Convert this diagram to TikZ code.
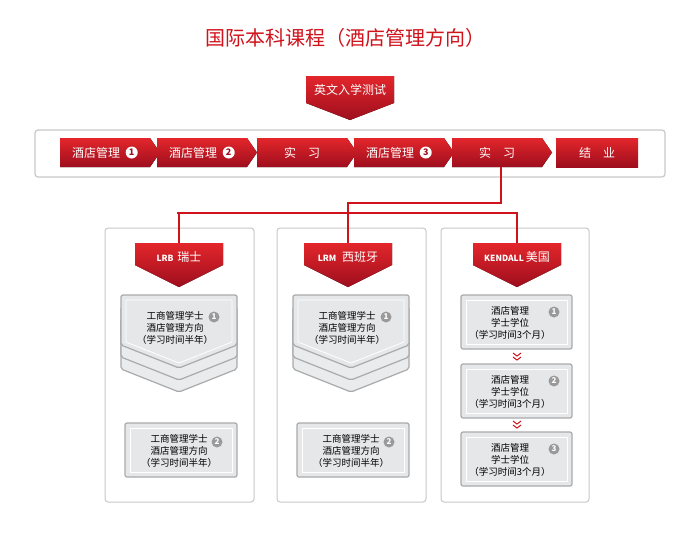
\documentclass[tikz,border=0pt]{standalone}
\usepackage{fontspec}
\setmainfont{Noto Sans CJK SC}
\usetikzlibrary{positioning}
\definecolor{hired}{HTML}{E3262B}
\definecolor{lored}{HTML}{9E0E1E}
\definecolor{titlered}{HTML}{D0121B}
\definecolor{panelgray}{HTML}{C8C8C8}
\definecolor{boxgray}{HTML}{E6E7E9}
\definecolor{boxedge}{HTML}{A9AAAC}
\definecolor{numgray}{HTML}{9A9A9A}
\tikzset{
	redshade/.style={top color=hired, bottom color=lored, draw=none},
	redtxt/.style={text=white, font=\fontsize{12}{14}\selectfont},
	panel/.style={draw=panelgray, line width=1pt, rounded corners=3pt, fill=white},
	graybox/.style={draw=boxedge, line width=1.2pt, fill=boxgray, rounded corners=2pt},
	grayin/.style={draw=white, line width=0.8pt},
	boxtxt/.style={font=\fontsize{9.5}{12}\selectfont, align=center, text=black},
	numw/.style={circle, fill=white, text=lored, inner sep=0.6pt, minimum size=12pt, font=\fontsize{9}{9}\selectfont\bfseries},
	numg/.style={circle, fill=numgray, text=white, inner sep=0.6pt, minimum size=11pt, font=\fontsize{8}{8}\selectfont\bfseries},
	link/.style={draw=titlered, line width=1.2pt},
	chev/.style={draw=titlered, line width=1pt}
}
\newcommand\tabdown[6]{% x1 x2 y1 y2 ytip name
	\fill[redshade] (#1,#3) -- (#2,#3) -- (#2,#4) -- ({(#1+#2)/2},#5) -- (#1,#4) -- cycle;
	\coordinate (#6) at ({(#1+#2)/2},#3);}
\begin{document}
\begin{tikzpicture}[x=1pt, y=-1pt]
	\useasboundingbox[fill=white] (0,0) rectangle (700,542);
	\node[text=titlered, font=\fontsize{20}{22}\selectfont] (title) at (345,38) {国际本科课程（酒店管理方向）};

	% entrance test
	\tabdown{306}{394}{76}{103}{120}{test}
	\node[redtxt] (testtxt) at (350,90) {英文入学测试};

	% strip
	\draw[panel, line width=1.2pt] (35,130) rectangle (665,177);
	\foreach \x/\name in {60/s1, 157/s2, 257/s3, 354/s4, 452/s5}{
		\fill[redshade] (\x,138) -- (\x+90,138) -- (\x+100,152.5) -- (\x+90,167) -- (\x,167) -- cycle;
		\coordinate (\name) at (\x+45,152.5);
	}
	\fill[redshade] (556,138) rectangle (638,167);
	\node[redtxt] (t1) at ([xshift=-9pt]s1) {酒店管理};
	\node[redtxt] (t2) at ([xshift=-9pt]s2) {酒店管理};
	\node[redtxt] (t3) at (s3) {实\quad 习};
	\node[redtxt] (t4) at ([xshift=-9pt]s4) {酒店管理};
	\node[redtxt] (t5) at (s5) {实\quad 习};
	\node[redtxt] (t6) at (597,152.5) {结\quad 业};
	\node[numw, right=2pt of t1] (n1) {1};
	\node[numw, right=2pt of t2] (n2) {2};
	\node[numw, right=2pt of t4] (n4) {3};

	% panels
	\draw[panel] (105,228) rectangle (254,502);
	\draw[panel] (277,228) rectangle (426,502);
	\draw[panel] (441,228) rectangle (589,502);

	\tabdown{135}{223}{243}{265}{287}{lrb}
	\node[redtxt] (lrbtxt) at (179,257) {\fontsize{8.5}{8}\selectfont\bfseries LRB\ \ \fontsize{12}{12}\selectfont\mdseries 瑞士};
	\tabdown{304}{392}{243}{265}{287}{lrm}
	\node[redtxt] (lrmtxt) at (348,257) {\fontsize{8.5}{8}\selectfont\bfseries LRM\ \ \ \fontsize{12}{12}\selectfont\mdseries 西班牙};
	\tabdown{473}{561}{243}{265}{287}{ken}
	\node[redtxt] (kentxt) at (517,257) {\fontsize{8.5}{8}\selectfont\bfseries KENDALL\ \fontsize{12}{12}\selectfont\mdseries 美国};

	% links
	\coordinate (s5b) at (501,167);
	\draw[link] (s5b) -- (501,203) -| (lrm);
	\draw[link] (lrb) |- (177,213) -| (ken);

	% swiss / spanish stacked boxes
	\foreach \x/\p in {121/a, 293/b}{
		\foreach \dy in {24,12}{
			\draw[graybox, fill=boxgray!85] (\x,295+\dy) -- (\x+116,295+\dy) -- (\x+116,345+\dy) -- (\x+58,368+\dy) -- (\x,345+\dy) -- cycle;
		}
		\draw[graybox] (\x,295) -- (\x+116,295) -- (\x+116,345) -- (\x+58,368) -- (\x,345) -- cycle;
		\draw[grayin] (\x+5,300) -- (\x+111,300) -- (\x+111,342) -- (\x+58,363) -- (\x+5,342) -- cycle;
		\node[boxtxt] (\p1) at (\x+54,328) {工商管理学士\\酒店管理方向\\（学习时间半年）};
		\node[numg] (\p1n) at (\x+93,317) {1};
		\draw[graybox] (\x+4,423) rectangle (\x+116,477);
		\draw[grayin] (\x+9,428) rectangle (\x+111,472);
		\node[boxtxt] (\p2) at (\x+58,451) {工商管理学士\\酒店管理方向\\（学习时间半年）};
		\node[numg] (\p2n) at (\x+96,442) {2};
	}

	% kendall boxes
	\foreach \y/\k in {295/1, 364/2, 432/3}{
		\draw[graybox] (461,\y) rectangle (572,\y+54);
		\draw[grayin] (466,\y+5) rectangle (567,\y+49);
		\node[boxtxt] (k\k) at (510,\y+28) {酒店管理\\学士学位\\（学习时间3个月）};
		\node[numg] (k\k n) at (554,\y+17) {\k};
	}
	\foreach \y in {353, 421}{
		\draw[chev] (513,\y) -- (517,\y+3) -- (521,\y);
		\draw[chev] (513,\y+4) -- (517,\y+7) -- (521,\y+4);
	}
\end{tikzpicture}
\end{document}
